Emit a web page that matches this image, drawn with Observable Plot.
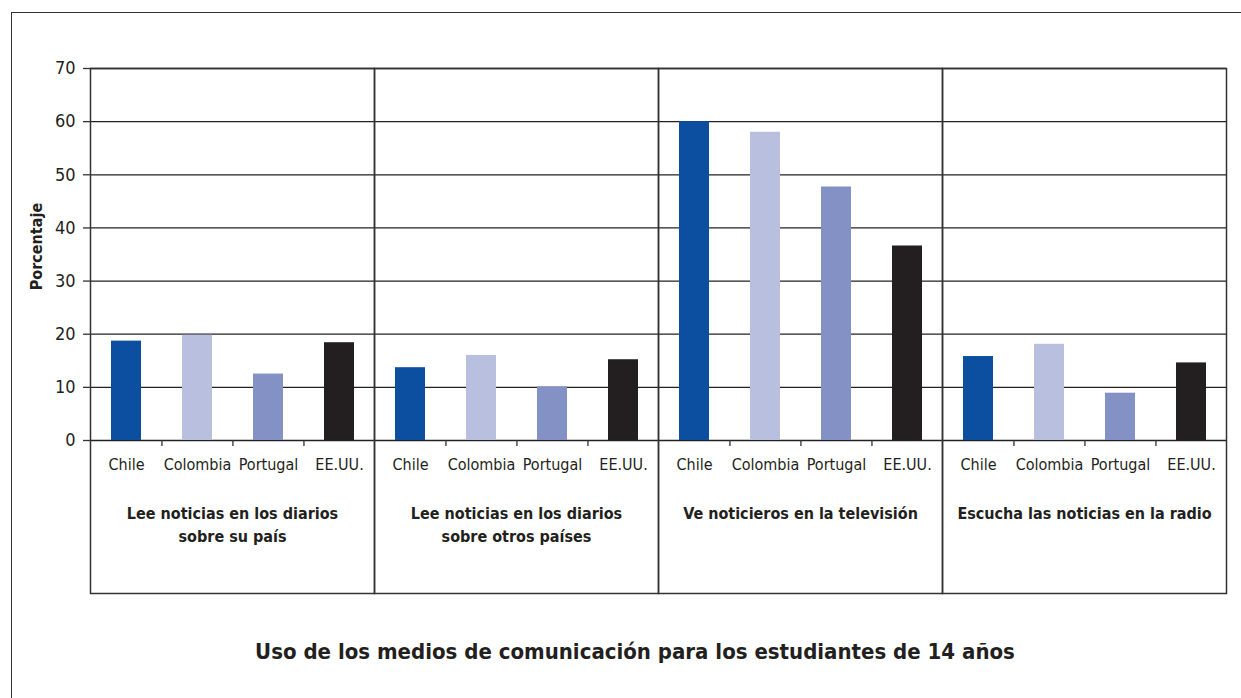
<!DOCTYPE html>
<html>
<head>
<meta charset="utf-8">
<script src="https://cdn.jsdelivr.net/npm/d3@7"></script>
<script src="https://cdn.jsdelivr.net/npm/@observablehq/plot@0.6"></script>
<style>
  html, body { margin: 0; padding: 0; background: #fff; }
  #wrap { position: relative; width: 1241px; height: 698px; overflow: hidden;
          font-family: 'DejaVu Sans Condensed', 'DejaVu Sans', sans-serif; font-stretch: condensed; }
  #border { position: absolute; left: 11px; top: 12px; width: 1300px; height: 800px;
            border-left: 1.5px solid #333; border-top: 1.5px solid #333; pointer-events: none; }
  #chart { position: absolute; left: 0; top: 0; }
  #chart text { font-stretch: condensed; }
  #title { position: absolute; left: 0; width: 1270px; top: 639px; text-align: center;
           font-weight: bold; font-size: 22px; color: #231f20; }
</style>
</head>
<body>
<div id="wrap">
  <div id="border"></div>
  <div id="chart"></div>
  <div id="title">Uso de los medios de comunicación para los estudiantes de 14 años</div>
</div>
<script>
const groups = [
  "Lee noticias en los diarios\nsobre su país",
  "Lee noticias en los diarios\nsobre otros países",
  "Ve noticieros en la televisión",
  "Escucha las noticias en la radio"
];
const countries = ["Chile", "Colombia", "Portugal", "EE.UU."];
const countryColors = ["#0c4fa1", "#b9bfdf", "#8391c5", "#231f20"];
const chileValues    = [18.7, 13.7, 60.0, 15.8];
const colombiaValues = [19.8, 16.0, 58.0, 18.1];
const portugalValues = [12.5, 10.1, 47.7, 8.9];
const eeuuValues     = [18.4, 15.2, 36.6, 14.6];
const yTicks = [0, 10, 20, 30, 40, 50, 60, 70];
const yLabel = "Porcentaje";

const seriesValues = [chileValues, colombiaValues, portugalValues, eeuuValues];
const data = [];
groups.forEach((g, gi) => {
  countries.forEach((c, ci) => {
    data.push({group: g, country: c, value: seriesValues[ci][gi]});
  });
});
const boundaries = data.filter(d => d.country !== countries[0]);

const W = 1241, H = 600;
const mL = 89, mR = 14, mT = 68, mB = 7;
const yZero = 440;
const step = (W - mL - mR) / groups.length / countries.length;
const lineColor = "#333";
const fontFam = "'DejaVu Sans Condensed', 'DejaVu Sans', sans-serif";

const chart = Plot.plot({
  width: W,
  height: H,
  marginLeft: mL,
  marginRight: mR,
  marginTop: mT,
  marginBottom: mB,
  style: {
    fontFamily: fontFam,
    fontSize: "16px",
    color: "#231f20",
    background: "transparent"
  },
  fx: {domain: groups, padding: 0, axis: null},
  x: {domain: countries, paddingInner: 0.58, paddingOuter: 0.29, axis: null},
  y: {domain: [0, 70], range: [yZero, mT], axis: null, label: null},
  color: {domain: countries, range: countryColors},
  marks: [
    Plot.gridY(yTicks, {stroke: "#222", strokeOpacity: 1, strokeWidth: 1.3}),
    Plot.barY(data, {fx: "group", x: "country", y: "value", fill: "country"}),
    Plot.frame({stroke: lineColor, strokeWidth: 1.5}),
    Plot.ruleX(boundaries, {fx: "group", x: "country", y1: () => 0, y2: () => 0,
      insetBottom: -6, dx: -step / 2, stroke: lineColor, strokeWidth: 1.3}),
    Plot.axisY({ticks: yTicks, label: null, tickSize: 7, tickPadding: 8, fontSize: 18,
      stroke: lineColor, strokeWidth: 1.3}),
    Plot.text(data, {fx: "group", x: "country", y: () => 0, text: "country", dy: 24, fontSize: 16}),
    Plot.text(groups, {fx: d => d, text: d => d, y: () => 0, dy: 62, lineAnchor: "top",
      fontWeight: "bold", fontSize: 16, lineHeight: 1.45}),
    Plot.text([groups[0]], {fx: d => d, y: () => 36.5, frameAnchor: "left", dx: -54,
      rotate: -90, textAnchor: "middle", text: () => yLabel, fontWeight: "bold", fontSize: 16})
  ]
});
document.getElementById("chart").appendChild(chart);
</script>
</body>
</html>
